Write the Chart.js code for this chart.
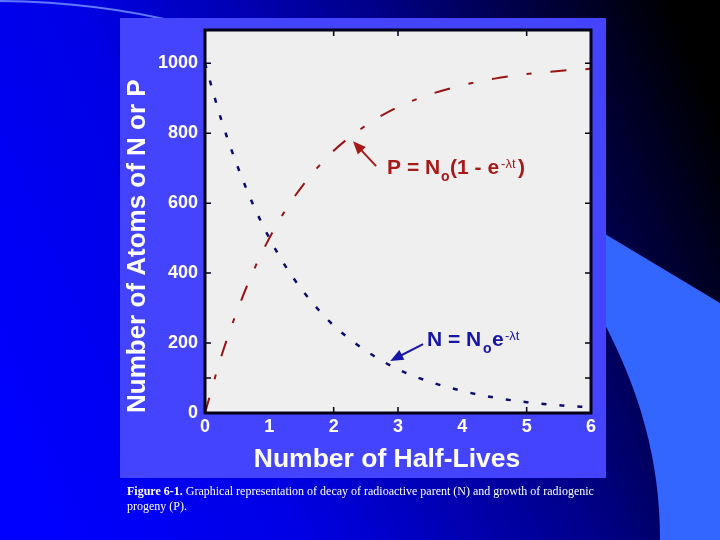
<!DOCTYPE html>
<html>
<head>
<meta charset="utf-8">
<script src="https://cdn.jsdelivr.net/npm/chart.js@4.4.0/dist/chart.umd.min.js"></script>
<style>
  html, body { margin: 0; padding: 0; background: #000; }
  #wrap { position: relative; width: 720px; height: 540px; }
  #caption {
    position: absolute; left: 127px; top: 484px;
    color: #fff; font: 12px "Liberation Serif", "Times New Roman", serif;
    line-height: 15px; white-space: nowrap;
  }
</style>
</head>
<body>
<div id="wrap">
  <canvas id="decay" width="720" height="540"></canvas>
  <div id="caption"><b>Figure 6-1.</b> Graphical representation of decay of radioactive parent (N) and growth of radiogenic<br>progeny (P).</div>
</div>
<script>
// values
const halfLives = [0, 0.25, 0.5, 0.75, 1, 1.25, 1.5, 1.75, 2, 2.5, 3, 3.5, 4, 4.5, 5, 5.5, 6];
const parentN = [1000, 840, 708, 595, 500, 420, 354, 298, 250, 178, 125, 89, 63, 44, 31, 22, 16];
const progenyP = [0, 160, 292, 405, 500, 580, 646, 702, 750, 822, 875, 911, 937, 956, 969, 978, 984];

const xTicks = [0, 1, 2, 3, 4, 5, 6];
const yTicks = [0, 200, 400, 600, 800, 1000];
const xFrameTicks = [2, 3, 5];
const yFrameTicks = [100, 200, 400, 600, 800, 1000];

const redInk = '#a81a1a';
const blueInk = '#1616a8';
const sans = '"Liberation Sans", Arial, Helvetica, sans-serif';

const slideBackground = {
    id: 'slideBackground',
    beforeDraw(chart) {
        const { ctx, width, height, chartArea: a } = chart;
        ctx.save();
        const g = ctx.createLinearGradient(0, 420, 720, 120);
        g.addColorStop(0, '#0000ff');
        g.addColorStop(0.3, '#0000e4');
        g.addColorStop(0.65, '#000088');
        g.addColorStop(1, '#000000');
        ctx.fillStyle = g;
        ctx.fillRect(0, 0, width, height);

        // faint arc top left
        ctx.strokeStyle = 'rgba(120,150,255,0.8)';
        ctx.lineWidth = 2;
        ctx.beginPath();
        ctx.moveTo(0, 1);
        ctx.quadraticCurveTo(100, 2, 185, 24);
        ctx.stroke();

        // light blue swoosh on the right
        ctx.fillStyle = '#3366ff';
        ctx.beginPath();
        ctx.moveTo(600, 231);
        ctx.lineTo(720, 303);
        ctx.lineTo(720, 540);
        ctx.lineTo(660, 540);
        ctx.bezierCurveTo(660, 460, 640, 390, 600, 315);
        ctx.closePath();
        ctx.fill();

        // panel and plot background
        ctx.fillStyle = '#4444ff';
        ctx.fillRect(120, 18, 486, 460);
        ctx.fillStyle = '#efefef';
        ctx.fillRect(a.left, a.top, a.right - a.left, a.bottom - a.top);
        ctx.restore();
    }
};

const plotFrame = {
    id: 'plotFrame',
    afterDatasetsDraw(chart) {
        const { ctx, chartArea: a, scales: { x, y } } = chart;
        ctx.save();
        ctx.strokeStyle = '#000018';
        ctx.lineWidth = 1.5;
        ctx.beginPath();
        xFrameTicks.forEach(v => {
            const px = x.getPixelForValue(v);
            ctx.moveTo(px, a.top); ctx.lineTo(px, a.top + 6);
            ctx.moveTo(px, a.bottom); ctx.lineTo(px, a.bottom - 6);
        });
        yFrameTicks.forEach(v => {
            const py = y.getPixelForValue(v);
            ctx.moveTo(a.left, py); ctx.lineTo(a.left + 6, py);
            ctx.moveTo(a.right, py); ctx.lineTo(a.right - 6, py);
        });
        ctx.stroke();
        ctx.lineWidth = 3;
        ctx.strokeRect(a.left, a.top, a.right - a.left, a.bottom - a.top);
        ctx.restore();
    }
};

function drawArrow(ctx, x0, y0, x1, y1, color) {
    const ang = Math.atan2(y1 - y0, x1 - x0);
    const c = Math.cos(ang), s = Math.sin(ang);
    ctx.strokeStyle = color;
    ctx.fillStyle = color;
    ctx.lineWidth = 2;
    ctx.beginPath();
    ctx.moveTo(x0, y0);
    ctx.lineTo(x1 - 8 * c, y1 - 8 * s);
    ctx.stroke();
    ctx.beginPath();
    ctx.moveTo(x1, y1);
    ctx.lineTo(x1 - 13 * c + 5.5 * s, y1 - 13 * s - 5.5 * c);
    ctx.lineTo(x1 - 13 * c - 5.5 * s, y1 - 13 * s + 5.5 * c);
    ctx.closePath();
    ctx.fill();
}

function drawFormula(ctx, x, y, parts, color) {
    ctx.fillStyle = color;
    ctx.textAlign = 'left';
    ctx.textBaseline = 'alphabetic';
    parts.forEach(p => {
        ctx.font = p.font;
        ctx.fillText(p.text, x + p.dx, y + p.dy);
    });
}

const formulas = {
    id: 'formulas',
    afterDatasetsDraw(chart) {
        const { ctx, scales: { x, y } } = chart;
        const big = 'bold 21px ' + sans;
        const sub = 'bold 14px ' + sans;
        const sup = '13px ' + sans;
        ctx.save();
        drawArrow(ctx, x.getPixelForValue(2.66), y.getPixelForValue(706),
            x.getPixelForValue(2.30), y.getPixelForValue(777), redInk);
        drawFormula(ctx, x.getPixelForValue(2.83), y.getPixelForValue(683), [
            { text: 'P = N', font: big, dx: 0, dy: 0 },
            { text: 'o', font: sub, dx: 54, dy: 7 },
            { text: '(1 - e', font: big, dx: 63, dy: 0 },
            { text: '-\u03bbt', font: sup, dx: 114, dy: -6 },
            { text: ')', font: big, dx: 131, dy: 0 }
        ], redInk);

        drawArrow(ctx, x.getPixelForValue(3.39), y.getPixelForValue(197),
            x.getPixelForValue(2.88), y.getPixelForValue(149), blueInk);
        drawFormula(ctx, x.getPixelForValue(3.45), y.getPixelForValue(191), [
            { text: 'N = N', font: big, dx: 0, dy: 0 },
            { text: 'o', font: sub, dx: 56, dy: 7 },
            { text: 'e', font: big, dx: 65, dy: 0 },
            { text: '-\u03bbt', font: sup, dx: 78, dy: -6 }
        ], blueInk);
        ctx.restore();
    },
    afterDraw(chart) {
        const { ctx } = chart;
        ctx.save();
        ctx.fillStyle = '#ffffff';
        ctx.font = 'bold 26.5px ' + sans;
        ctx.textAlign = 'center';
        ctx.textBaseline = 'middle';
        ctx.fillText('Number of Half-Lives', 387, 460);
        ctx.restore();
    }
};

const tickFont = { family: sans, size: 18, weight: 'bold' };

new Chart(document.getElementById('decay'), {
    type: 'line',
    data: {
        datasets: [{
            label: 'P = No(1 - e-λt)',
            data: halfLives.map((t, i) => ({ x: t, y: progenyP[i] })),
            borderColor: '#981414',
            borderWidth: 2,
            borderDash: [16, 19, 5, 19],
            pointRadius: 0,
            cubicInterpolationMode: 'monotone',
            fill: false
        },
        {
            label: 'N = Noe-λt',
            data: halfLives.map((t, i) => ({ x: t, y: parentN[i] })),
            borderColor: '#0c0c6e',
            borderWidth: 2.5,
            borderDash: [5, 13],
            pointRadius: 0,
            cubicInterpolationMode: 'monotone',
            fill: false
        }]
    },
    options: {
        responsive: false,
        animation: false,
        devicePixelRatio: 1,
        layout: { padding: { left: 120, right: 129, top: 30, bottom: 0 } },
        plugins: {
            legend: { display: false },
            tooltip: { enabled: false }
        },
        scales: {
            x: {
                type: 'linear',
                min: 0,
                max: 6,
                afterBuildTicks: s => { s.ticks = xTicks.map(v => ({ value: v })); },
                afterFit: s => { s.height = 127; },
                grid: { display: false, drawTicks: false, tickLength: 0 },
                border: { display: false },
                ticks: { color: '#ffffff', font: tickFont, padding: 3, maxRotation: 0, callback: v => String(v) }
            },
            y: {
                type: 'linear',
                min: 0,
                max: 1095,
                afterBuildTicks: s => { s.ticks = yTicks.map(v => ({ value: v })); },
                afterFit: s => { s.width = 85; },
                grid: { display: false, drawTicks: false, tickLength: 0 },
                border: { display: false },
                ticks: { color: '#ffffff', font: tickFont, padding: 7, callback: v => String(v) },
                title: {
                    display: true,
                    text: 'Number of Atoms of N or P',
                    align: 'start',
                    color: '#ffffff',
                    font: { family: sans, size: 26, weight: 'bold' },
                    padding: { top: 2, bottom: 0 }
                }
            }
        }
    },
    plugins: [slideBackground, plotFrame, formulas]
});
</script>
</body>
</html>
